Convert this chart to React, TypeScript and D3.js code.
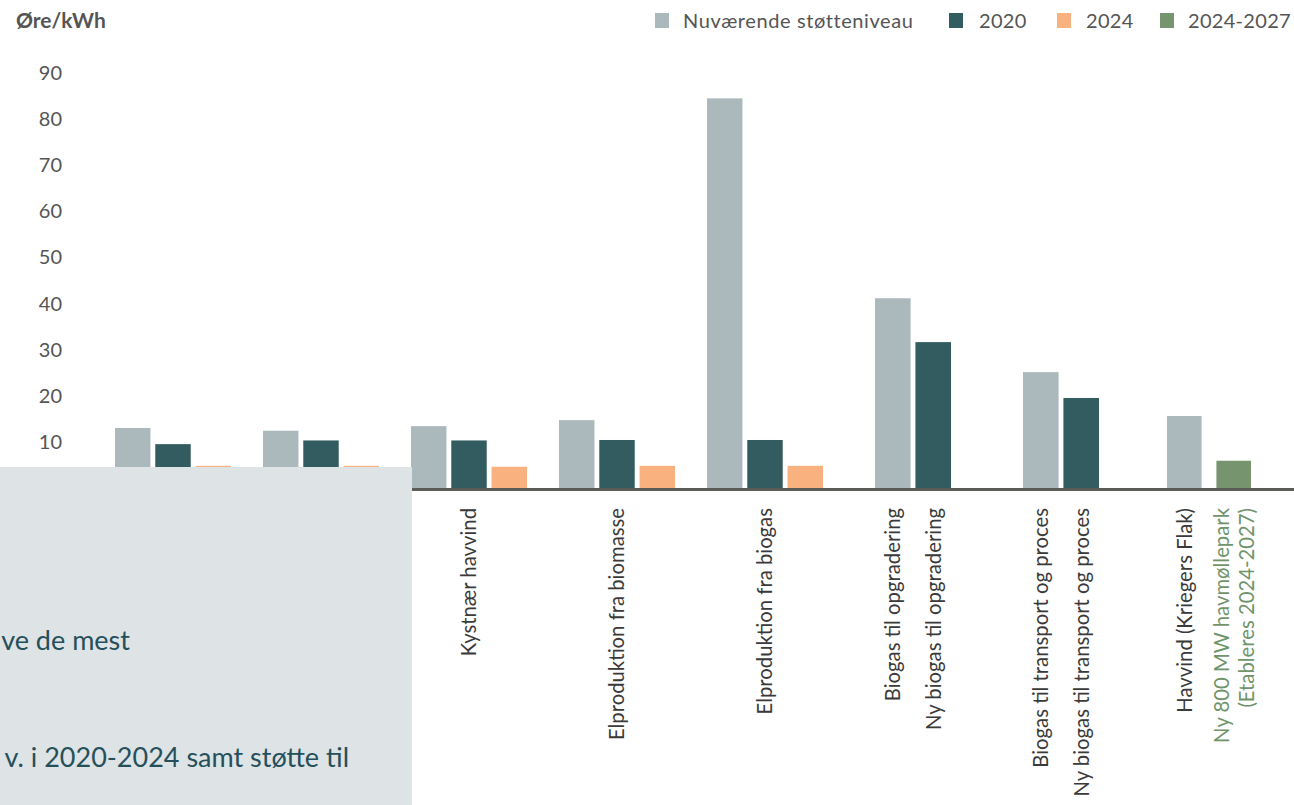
import React from "react";
import * as d3 from "d3";

const categories = ["g1", "g2", "g3", "g4", "g5", "g6", "g7", "g8"];
const categoryLabels: string[][] = [
  [],
  [],
  ["Kystnær havvind"],
  ["Elproduktion fra biomasse"],
  ["Elproduktion fra biogas"],
  ["Biogas til opgradering", "Ny biogas til opgradering"],
  ["Biogas til transport og proces", "Ny biogas til transport og proces"],
  ["Havvind (Kriegers Flak)", "Ny 800 MW havmøllepark\n(Etableres 2024-2027)"],
];
const seriesNames = ["Nuværende støtteniveau", "2020", "2024", "2024-2027"];
const nuvaerende = [13.0, 12.4, 13.4, 14.7, 84.4, 41.1, 25.1, 15.6];
const v2020 = [9.5, 10.3, 10.3, 10.4, 10.4, 31.6, 19.5, null];
const v2024 = [4.8, 4.8, 4.6, 4.8, 4.8, null, null, null];
const v2024_2027 = [null, null, null, null, null, null, null, 5.9];
const yTicks = [10, 20, 30, 40, 50, 60, 70, 80, 90];
const boxLines = ["ve de mest", "v. i 2020-2024 samt støtte til"];

const colors = ["#abb9bc", "#335c60", "#f8b17f", "#76956f"];
const FONT = "Lato, 'Open Sans', sans-serif";

export default function App() {
  const W = 1294;
  const H = 805;
  const y = d3.scaleLinear().domain([0, 90]).range([488, 72.5]);
  const x0 = d3.scaleBand<string>().domain(categories).range([99, 1283]).padding(0);
  const seriesData = [nuvaerende, v2020, v2024, v2024_2027];

  const groups = categories.map((c, gi) => {
    const present = seriesData
      .map((s, si) => ({ si, v: s[gi] }))
      .filter((d) => d.v !== null) as { si: number; v: number }[];
    const n = present.length;
    const isLast = gi === categories.length - 1;
    const width = isLast ? 84 : n * 40 - 4;
    const center = (x0(c) as number) + x0.bandwidth() / 2;
    const x1 = d3
      .scaleBand<number>()
      .domain(present.map((d) => d.si))
      .range([center - width / 2, center + width / 2])
      .paddingInner(isLast ? 0.3 : 0.12)
      .paddingOuter(0);
    return { c, gi, present, x1, center };
  });

  const legendItems = [
    { x: 655, textX: 683 },
    { x: 949, textX: 979 },
    { x: 1057, textX: 1086 },
    { x: 1160, textX: 1188 },
  ];

  return (
    <svg width={W} height={H} style={{ position: "absolute", left: 0, top: 0, background: "#fff" }}>
      <rect x={0} y={0} width={W} height={H} fill="#fff" />
      {/* y unit title */}
      <text x={16} y={28} fontFamily={FONT} fontWeight={700} fontSize={21} fill="#555">
        Øre/kWh
      </text>
      {/* y ticks */}
      {yTicks.map((t) => (
        <text key={t} x={62} y={y(t)} dy="0.36em" textAnchor="end" fontFamily={FONT} fontSize={20} fill="#555">
          {t}
        </text>
      ))}
      {/* legend */}
      {seriesNames.map((s, i) => (
        <g key={s}>
          <rect x={legendItems[i].x} y={13} width={14} height={15} fill={colors[i]} />
          <text
            x={legendItems[i].textX}
            y={28}
            fontFamily={FONT}
            fontSize={20}
            letterSpacing={i === 0 ? 0.6 : 0.3}
            fill="#555"
          >
            {s}
          </text>
        </g>
      ))}
      {/* bars */}
      {groups.map((g) =>
        g.present.map((d) => (
          <rect
            key={g.c + d.si}
            x={g.x1(d.si)}
            y={y(d.v)}
            width={g.x1.bandwidth()}
            height={y(0) - y(d.v)}
            fill={colors[d.si]}
          />
        ))
      )}
      {/* baseline */}
      <line x1={95} x2={W} y1={y(0) + 1.5} y2={y(0) + 1.5} stroke="#5d5c56" strokeWidth={3} />
      {/* category labels */}
      {groups.map((g) => {
        const labels = categoryLabels[g.gi];
        return labels.map((lab, li) => {
          let cx: number;
          if (labels.length === 1) cx = g.center;
          else {
            const d = g.present[li];
            cx = (g.x1(d.si) as number) + g.x1.bandwidth() / 2;
          }
          const isGreen = g.present[li] && g.present[li].si === 3 && labels.length > 1;
          const lines = lab.split("\n");
          return lines.map((ln, k) => {
            const off = (k - (lines.length - 1) / 2) * 25;
            return (
              <text
                key={g.c + li + "-" + k}
                transform={`translate(${cx + off},508) rotate(-90)`}
                dy="0.36em"
                textAnchor="end"
                fontFamily={FONT}
                fontSize={20.3}
                fill={isGreen ? "#6f946a" : "#3a3a3a"}
              >
                {ln}
              </text>
            );
          });
        });
      })}
      {/* overlay panel */}
      <rect x={0} y={467} width={412} height={H - 467} fill="#dee3e5" />
      <text x={130} y={650} textAnchor="end" fontFamily={FONT} fontSize={27} fill="#25505b">
        {boxLines[0]}
      </text>
      <text x={349} y={767} textAnchor="end" fontFamily={FONT} fontSize={27} fill="#25505b">
        {boxLines[1]}
      </text>
    </svg>
  );
}
